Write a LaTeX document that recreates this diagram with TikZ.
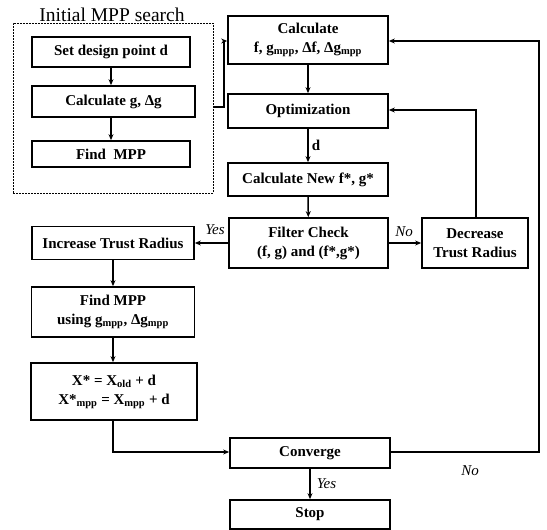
\documentclass[tikz,border=0pt]{standalone}
\usepackage{fontspec}
\setmainfont{Liberation Serif}
\usetikzlibrary{arrows.meta,positioning}
\begin{document}
\begin{tikzpicture}[x=1pt,y=-1pt,
  box/.style={draw=black,line width=1.7pt,fill=white,inner sep=1pt,align=center,
    font=\bfseries\fontsize{15}{19}\selectfont},
  conn/.style={line width=1.5pt,-{Stealth[length=6pt,width=5pt]}},
  lbl/.style={font=\itshape\fontsize{15}{17}\selectfont,inner sep=0pt},
  grp/.style={draw=black,line width=0.8pt,dash pattern=on 2pt off 1pt}]
\useasboundingbox (0,0) rectangle (547,530);
% group
\node[grp,minimum width=200pt,minimum height=170pt] (grp) at (113,108) {};
\node[font=\fontsize{19.5}{22}\selectfont,anchor=base,inner sep=0pt] (title) at (112,21) {Initial MPP search};
% left group boxes
\node[box,minimum width=158pt,minimum height=30pt] (set) at (111,52) {Set design point d};
\node[box,minimum width=163pt,minimum height=31pt] (calcg) at (113.5,101.5) {Calculate g, Δg};
\node[box,minimum width=158pt,minimum height=26pt] (find) at (111,154) {Find\ \ MPP};
% right column
\node[box,minimum width=160pt,minimum height=48pt] (calcf) at (308,40) {Calculate\\f, g\textsubscript{mpp}, Δf, Δg\textsubscript{mpp}};
\node[box,minimum width=160pt,minimum height=34pt] (opt) at (308,111) {Optimization};
\node[box,minimum width=160pt,minimum height=33pt] (new) at (308,179.5) {Calculate New f*, g*};
\node[box,minimum width=159pt,minimum height=50pt] (filter) at (308.5,243) {Filter Check\\(f, g) and (f*,g*)};
\node[box,minimum width=106pt,minimum height=50pt] (dec) at (475,243) {Decrease\\Trust Radius};
% left lower column
\node[box,minimum width=162pt,minimum height=33pt] (inc) at (113,243) {Increase Trust Radius};
\node[box,minimum width=163pt,minimum height=50pt] (find2) at (113,312) {Find MPP\\using g\textsubscript{mpp}, Δg\textsubscript{mpp}};
\node[box,minimum width=166pt,minimum height=57pt] (xs) at (114,391.5) {X* = X\textsubscript{old} + d\\X*\textsubscript{mpp} = X\textsubscript{mpp} + d};
% bottom
\node[box,minimum width=160pt,minimum height=30pt] (conv) at (310,453) {Converge};
\node[box,minimum width=160pt,minimum height=29pt] (stop) at (310,514.5) {Stop};
% connectors
\draw[conn] (set.south) -- (set.south |- calcg.north);
\draw[conn] (set.south |- calcg.south) -- (set.south |- find.north);
\coordinate (g1) at (224,107);
\coordinate (g2) at (224,41);
\draw[conn] (grp.east |- g1) -- (g1) -- (g2) -- (calcf.west |- g2);
\draw[conn] (calcf) -- (opt);
\draw[conn] (opt) -- node[right,font=\bfseries\fontsize{15}{17}\selectfont,inner sep=3pt]{d} (new);
\draw[conn] (new) -- (filter);
\draw[conn] (filter.west) -- (inc.east |- filter.west);
\node[lbl] (yes1) at (215,230) {Yes};
\draw[conn] (filter.east) -- (dec.west |- filter.east);
\node[lbl] (no1) at (404,232) {No};
\coordinate (d1) at (476,110);
\draw[conn] (dec.north -| d1) -- (d1) -- (opt.east |- d1);
\draw[conn] (inc) -- (find2);
\draw[conn] (find2.south) -- (find2.south |- xs.north);
\coordinate (x1) at (113,452);
\draw[conn] (xs.south -| x1) -- (x1) -- (conv.west |- x1);
\draw[conn] (conv) -- node[right,lbl,inner sep=4pt,xshift=2pt]{Yes} (stop);
\coordinate (c1) at (539,452);
\coordinate (c2) at (539,41);
\draw[conn] (conv.east |- c1) -- (c1) -- (c2) -- (calcf.east |- c2);
\node[lbl] (no2) at (470,471) {No};
\end{tikzpicture}
\end{document}
